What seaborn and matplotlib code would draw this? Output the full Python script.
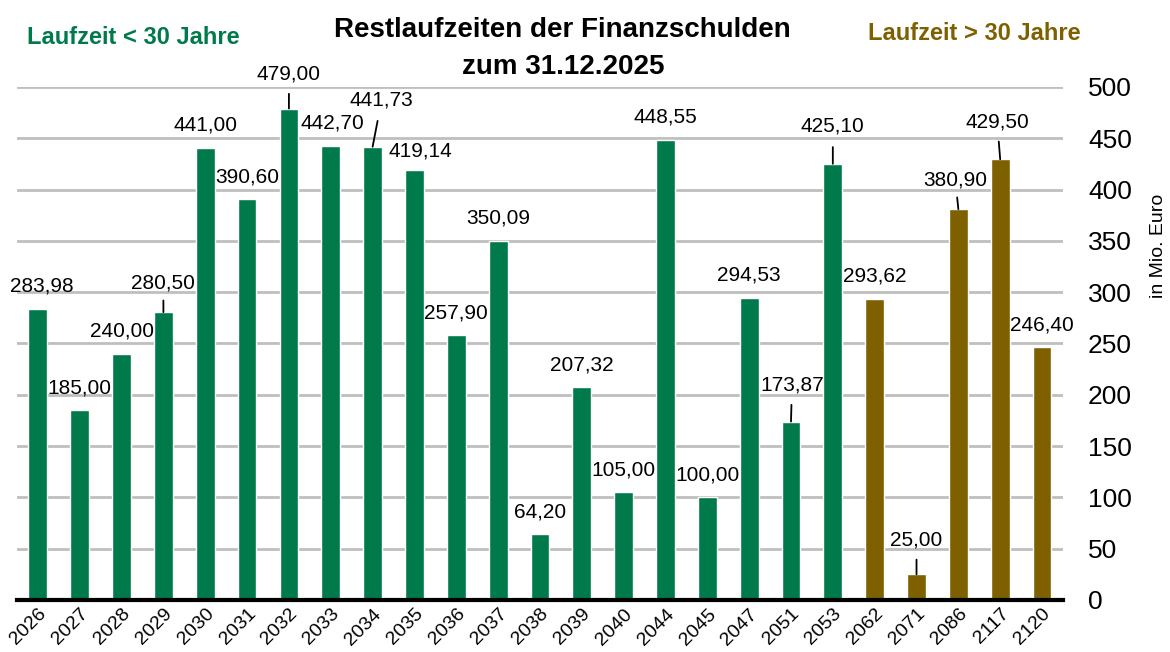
import pandas as pd
import seaborn as sns
import matplotlib.pyplot as plt

# data
years = ['2026', '2027', '2028', '2029', '2030', '2031', '2032', '2033', '2034', '2035',
         '2036', '2037', '2038', '2039', '2040', '2044', '2045', '2047', '2051', '2053',
         '2062', '2071', '2086', '2117', '2120']
values = [283.98, 185.00, 240.00, 280.50, 441.00, 390.60, 479.00, 442.70, 441.73, 419.14,
          257.90, 350.09, 64.20, 207.32, 105.00, 448.55, 100.00, 294.53, 173.87, 425.10,
          293.62, 25.00, 380.90, 429.50, 246.40]
groups = ['< 30'] * 20 + ['> 30'] * 5
y_ticks = [0, 50, 100, 150, 200, 250, 300, 350, 400, 450, 500]

green = '#007A4A'
brown = '#7F6000'
narrow = ['Liberation Sans Narrow', 'Liberation Sans', 'DejaVu Sans']

sns.set_theme(style="white")
plt.rcParams['font.family'] = narrow

df = pd.DataFrame({'Jahr': years, 'Wert': values, 'Gruppe': groups})

fig = plt.figure(figsize=(11.7, 6.52), dpi=100)
ax = fig.add_axes([0.0145, 0.0798, 0.894, 0.7868])

sns.barplot(data=df, x='Jahr', y='Wert', hue='Gruppe', order=years,
            palette={'< 30': green, '> 30': brown}, dodge=False, width=0.45,
            saturation=1, legend=False, ax=ax, zorder=3)

ax.set_xlim(-0.5, len(years) - 0.5)
ax.set_ylim(0, 500)
ax.set_yticks(y_ticks)
ax.yaxis.tick_right()
ax.tick_params(axis='y', length=0, pad=18, labelsize=19, labelcolor='black')
ax.yaxis.grid(True, color='#BFBFBF', linewidth=2, zorder=0)
ax.set_axisbelow(True)
for s in ['top', 'left', 'right']:
    ax.spines[s].set_visible(False)
ax.spines['bottom'].set_color('black')
ax.spines['bottom'].set_linewidth(3)
ax.spines['bottom'].set_zorder(5)

ax.set_xlabel('')
ax.set_ylabel('in Mio. Euro', fontsize=14, color='black')
ax.yaxis.set_label_position('right')
ax.yaxis.set_label_coords(1.083, 0.69)
ax.tick_params(axis='x', length=0, pad=4, labelsize=14, labelcolor='black')
plt.setp(ax.get_xticklabels(), rotation=45, ha='right', rotation_mode='anchor')

# label offsets in pixels: (dx, dy above bar top, leader line gap or None)
label_pos = {
    '2026': (4, 13, None), '2029': (0, 20, 5), '2032': (0, 25, 7), '2033': (2, 13, None),
    '2034': (9, 37, 8), '2035': (6, 9, None), '2051': (1, 27, 7), '2053': (0, 28, 8),
    '2071': (0, 25, 7), '2086': (-3, 20, 5), '2117': (-3, 28, 7),
}
for i, (yr, v) in enumerate(zip(years, values)):
    dx, dy, gap = label_pos.get(yr, (0, 13, None))
    txt = f'{v:.2f}'.replace('.', ',')
    kw = {}
    if gap is not None:
        kw['arrowprops'] = dict(arrowstyle='-', color='black', lw=1.3,
                                shrinkA=gap * 0.72, shrinkB=0)
    ax.annotate(txt, xy=(i, v), xytext=(dx * 0.72, dy * 0.72), textcoords='offset points',
                ha='center', va='bottom', fontsize=15, color='black',
                annotation_clip=False, zorder=6, **kw)

fig.text(0.481, 0.925, 'Restlaufzeiten der Finanzschulden\nzum 31.12.2025',
         ha='center', va='center', fontsize=20, fontweight='bold', color='black',
         linespacing=1.55)
fig.text(0.114, 0.943, 'Laufzeit < 30 Jahre', ha='center', va='center',
         fontsize=17, fontweight='bold', color=green)
fig.text(0.833, 0.949, 'Laufzeit > 30 Jahre', ha='center', va='center',
         fontsize=17, fontweight='bold', color=brown)

plt.savefig('out.png', dpi=100)
plt.close()
